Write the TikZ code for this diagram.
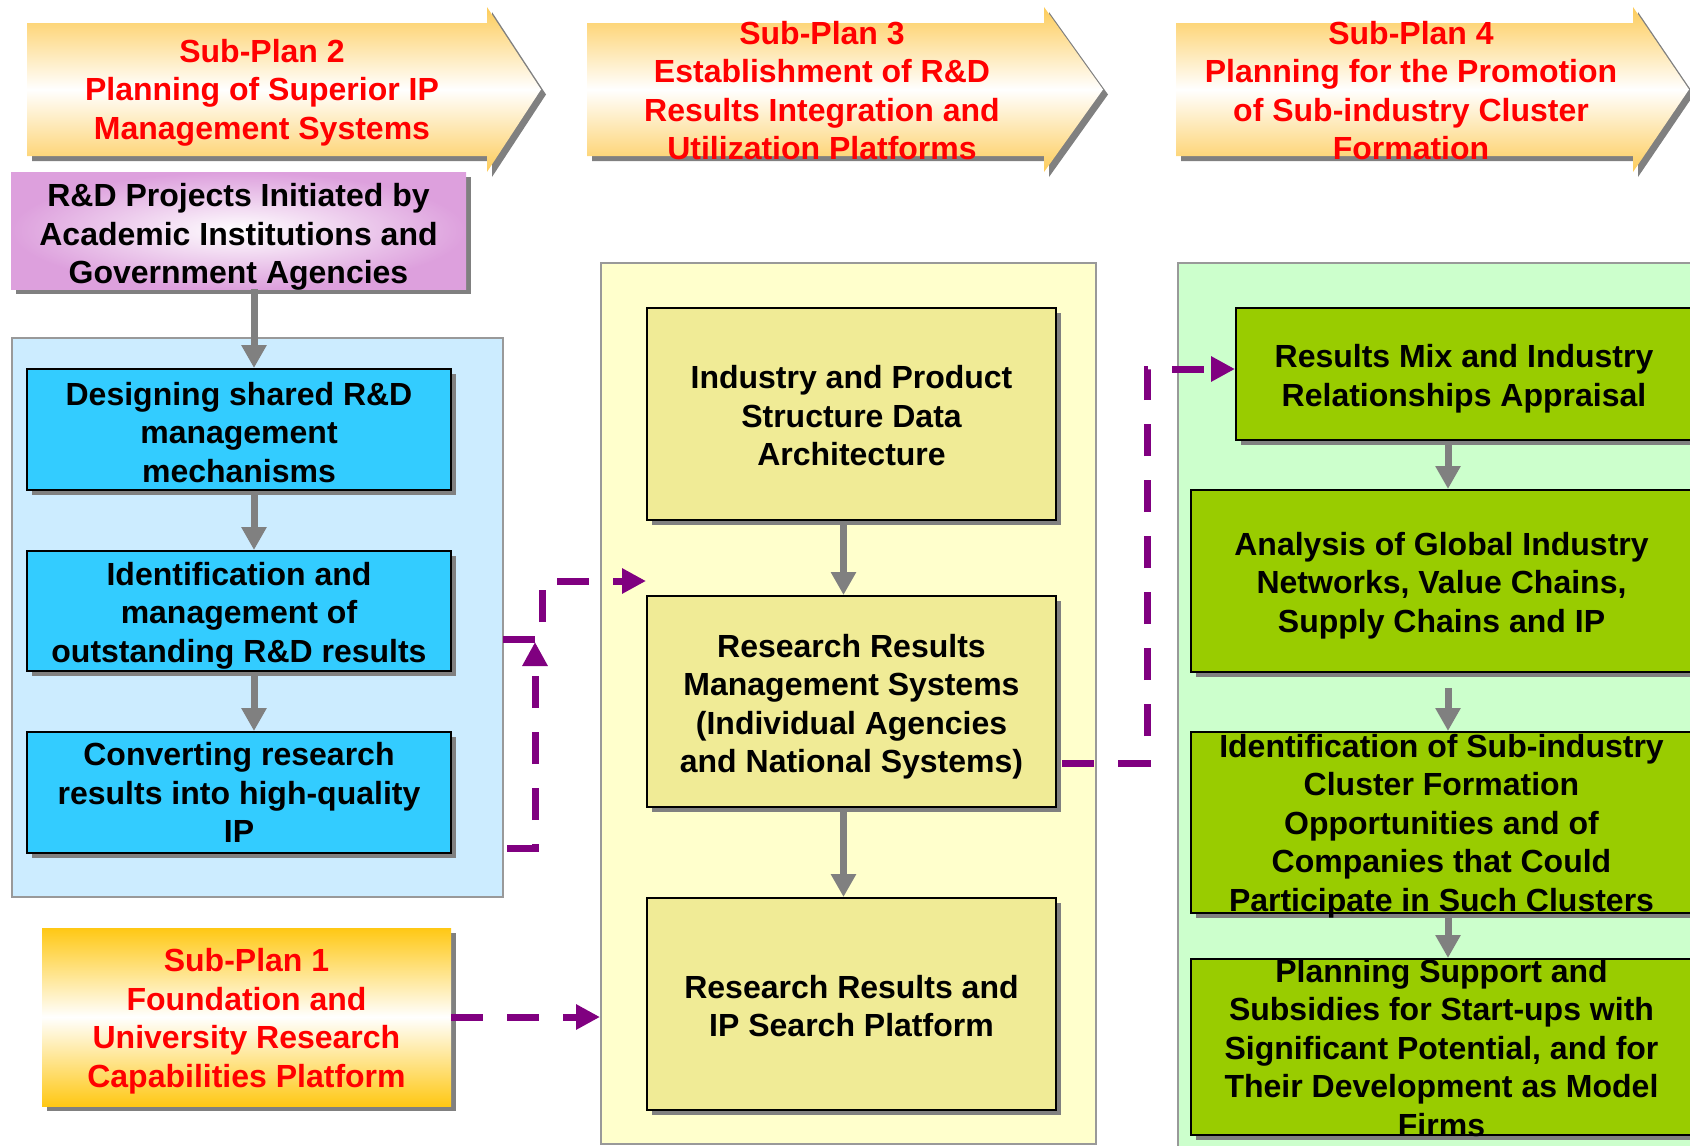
\documentclass[tikz,border=0pt]{standalone}
\usepackage{fontspec}
\setmainfont{Liberation Sans}
\usetikzlibrary{arrows.meta,shadows}

\definecolor{bannerorange}{RGB}{253,204,90}
\definecolor{planone}{RGB}{255,200,20}
\definecolor{plumbox}{RGB}{221,160,221}
\definecolor{bluepanel}{RGB}{204,236,255}
\definecolor{bluebox}{RGB}{51,204,255}
\definecolor{yellowpanel}{RGB}{255,255,204}
\definecolor{yellowbox}{RGB}{240,235,150}
\definecolor{greenpanel}{RGB}{204,255,204}
\definecolor{greenbox}{RGB}{153,204,0}
\definecolor{shadowgray}{RGB}{128,128,128}
\definecolor{panelline}{RGB}{153,153,153}
\definecolor{linkpurple}{RGB}{128,0,128}

\tikzset{
  txt/.style={font=\bfseries\fontsize{32}{38.5}\selectfont, align=center, inner sep=0pt},
  boxshadow/.style={drop shadow={shadow xshift=5pt, shadow yshift=-5pt, opacity=1, fill=shadowgray}},
  panel/.style={draw=panelline, line width=2pt, inner sep=0pt},
  box/.style={draw=black, line width=2pt, inner sep=0pt, boxshadow},
  banner/.style={top color=bannerorange, bottom color=bannerorange, middle color=white, boxshadow},
  bannertext/.style={txt, text=red},
  flow/.style={draw=shadowgray, line width=7pt, -{Triangle[length=23pt,width=24pt]}},
  link/.style={draw=linkpurple, line width=7pt, dash pattern=on 32pt off 24pt, -{Triangle[length=24pt,width=24pt]}},
}

\begin{document}
\begin{tikzpicture}[x=1pt,y=-1pt]
\useasboundingbox (0,0) rectangle (1690,1146);

% panels
\node[panel, fill=bluepanel, minimum width=491pt, minimum height=559pt] (bpanel) at (257.5,617.5) {};
\node[panel, fill=yellowpanel, minimum width=495pt, minimum height=881pt] (ypanel) at (848.5,703.5) {};
\node[panel, fill=greenpanel, minimum width=530pt, minimum height=900pt] (gpanel) at (1443,713) {};

%------------------------------------------------ banners
\path[banner] (27,23) -- (487,23) -- (487,7) -- (541,89.5) -- (487,172) -- (487,156) -- (27,156) -- cycle;
\node[bannertext] (sp2) at (262,92.5) {Sub-Plan 2\\Planning of Superior IP\\Management Systems};

\path[banner] (587,23) -- (1044,23) -- (1044,7) -- (1103,89.5) -- (1044,172) -- (1044,156) -- (587,156) -- cycle;
\node[bannertext] (sp3) at (822,90.5) {Sub-Plan 3\\Establishment of R\&D\\Results Integration and\\Utilization Platforms};

\path[banner] (1176,23) -- (1633,23) -- (1633,7) -- (1689,89.5) -- (1633,172) -- (1633,156) -- (1176,156) -- cycle;
\node[bannertext] (sp4) at (1411,90.5) {Sub-Plan 4\\Planning for the Promotion\\of Sub-industry Cluster\\Formation};

%------------------------------------------------ left column
\node[inner sep=0pt, inner color=white, outer color=plumbox, boxshadow, minimum width=455pt, minimum height=117pt] (src) at (238.5,230.5) {};
\node[txt] (srct) at ([yshift=-6.5]src.center) {R\&D Projects Initiated by\\Academic Institutions and\\Government Agencies};
\node[box, fill=bluebox, minimum width=424pt, minimum height=121pt] (des) at (239,429.5) {};
\node[txt] (dest) at ([yshift=-3]des.center) {Designing shared R\&D\\management\\mechanisms};
\node[box, fill=bluebox, minimum width=424pt, minimum height=120pt] (idn) at (239,611) {};
\node[txt] (idnt) at ([yshift=-4.5]idn.center) {Identification and\\management of\\outstanding R\&D results};
\node[box, fill=bluebox, minimum width=424pt, minimum height=121pt] (cnv) at (239,792.5) {};
\node[txt] (cnvt) at (cnv.center) {Converting research\\results into high-quality\\IP};
\node[inner sep=0pt, top color=planone, bottom color=planone, middle color=white, boxshadow, minimum width=409pt, minimum height=178pt] (sp1) at (246.5,1017) {};
\node[bannertext] (sp1t) at ([yshift=-4]sp1.center) {Sub-Plan 1\\Foundation and\\University Research\\Capabilities Platform};

%------------------------------------------------ middle column
\node[box, fill=yellowbox, minimum width=409pt, minimum height=212pt] (arch) at (851.5,414) {};
\node[txt] (archt) at ([yshift=-2]arch.center) {Industry and Product\\Structure Data\\Architecture};
\node[box, fill=yellowbox, minimum width=409pt, minimum height=211pt] (mgmt) at (851.5,701.5) {};
\node[txt] (mgmtt) at ([yshift=-5]mgmt.center) {Research Results\\Management Systems\\(Individual Agencies\\and National Systems)};
\node[box, fill=yellowbox, minimum width=409pt, minimum height=212pt] (search) at (851.5,1004) {};
\node[txt] (searcht) at ([yshift=-2]search.center) {Research Results and\\IP Search Platform};

%------------------------------------------------ right column
\node[box, fill=greenbox, minimum width=456pt, minimum height=132pt] (mix) at (1464,374) {};
\node[txt] (mixt) at ([yshift=-4.5]mix.center) {Results Mix and Industry\\Relationships Appraisal};
\node[box, fill=greenbox, minimum width=501pt, minimum height=182pt] (ana) at (1441.5,581) {};
\node[txt] (anat) at ([yshift=-4.5]ana.center) {Analysis of Global Industry\\Networks, Value Chains,\\Supply Chains and IP};
\node[box, fill=greenbox, minimum width=501pt, minimum height=181pt] (opp) at (1441.5,822.5) {};
\node[txt] (oppt) at ([yshift=-3.5]opp.center) {Identification of Sub-industry\\Cluster Formation\\Opportunities and of\\Companies that Could\\Participate in Such Clusters};
\node[box, fill=greenbox, minimum width=501pt, minimum height=176pt] (sup) at (1441.5,1047) {};
\node[txt] (supt) at ([yshift=-1]sup.center) {Planning Support and\\Subsidies for Start-ups with\\Significant Potential, and for\\Their Development as Model\\Firms};

%------------------------------------------------ grey flow arrows
\coordinate (bluex) at (254,0);
\coordinate (yelx) at (843.5,0);
\coordinate (grnx) at (1448,0);
\draw[flow] (src.south -| bluex) -- (des.north -| bluex);
\draw[flow] (des.south -| bluex) -- (idn.north -| bluex);
\draw[flow] (idn.south -| bluex) -- (cnv.north -| bluex);
\draw[flow] (arch.south -| yelx) -- (mgmt.north -| yelx);
\draw[flow] (mgmt.south -| yelx) -- (search.north -| yelx);
\draw[flow] (mix.south -| grnx) -- (ana.north -| grnx);
\draw[flow, shorten <=15pt] (ana.south -| grnx) -- (opp.north -| grnx);
\draw[flow] (opp.south -| grnx) -- (sup.north -| grnx);

%------------------------------------------------ purple dashed links
\coordinate (la) at (503,639);
\coordinate (lb) at (542,639);
\coordinate (lc) at (542,581);
\draw[link] (la) -- (lb) -- (lc) -- (lc -| mgmt.west);
\coordinate (ma) at (507,848);
\coordinate (mb) at (535,848);
\coordinate (mc) at (535,642);
\draw[link] (ma) -- (mb) -- (mc);
\coordinate (ra) at (1062,763);
\coordinate (rb) at (1147,763);
\coordinate (rc) at (1147,369);
\draw[link] (ra) -- (rb) -- (rc) -- (rc -| mix.west);
\draw[link] (sp1.east) -- (sp1.east -| ypanel.west);
\end{tikzpicture}
\end{document}
